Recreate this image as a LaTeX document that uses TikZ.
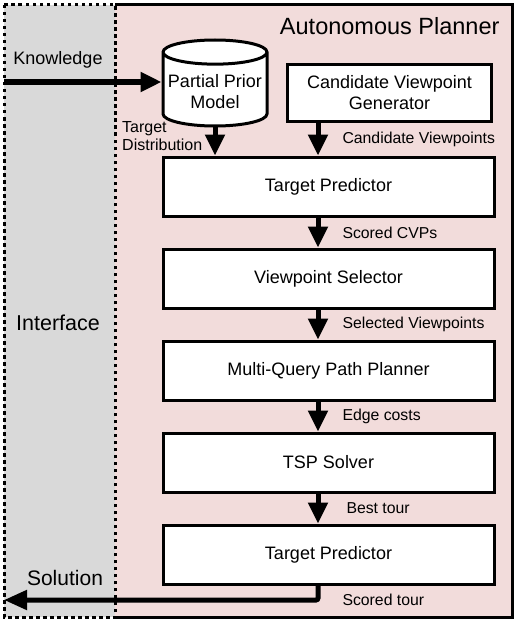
\documentclass[tikz,border=0pt]{standalone}
\usepackage{fontspec}
\setmainfont{Liberation Sans}
\usetikzlibrary{positioning,shapes.geometric,arrows.meta}
\definecolor{plannerpink}{HTML}{F2DCDB}
\definecolor{interfacegray}{HTML}{D9D9D9}
\tikzset{
  box/.style={draw, line width=3pt, fill=white, minimum width=331pt, minimum height=59pt, align=center, font=\fontsize{18}{21}\selectfont},
  flow/.style={line width=5pt, -{Triangle[width=19pt,length=21pt]}},
  lbl/.style={font=\fontsize{15.8}{18}\selectfont, inner sep=1pt, anchor=west, xshift=21pt},
}
\begin{document}
\begin{tikzpicture}[x=1pt,y=-1pt]
        \useasboundingbox (0,0) rectangle (517,623);
        \fill[plannerpink] (115,5) rectangle (512,617);
        \draw[line width=3pt] (115,5) -- (512,5) -- (512,617) -- (115,617);
        \draw[fill=interfacegray, line width=3pt, dash pattern=on 3.5pt off 3.5pt] (4,5) rectangle (115,617);
        \node[anchor=east, font=\fontsize{23.5}{26}\selectfont] (title) at (503,26) {Autonomous Planner};
        \node[font=\fontsize{18}{21}\selectfont] (know) at (58,60) {Knowledge};
        \node[font=\fontsize{21.5}{24}\selectfont] (intf) at (58,323) {Interface};
        \node[font=\fontsize{21}{24}\selectfont] (soln) at (65,578) {Solution};
        \node[cylinder, shape border rotate=90, aspect=0.24, draw, line width=3pt, fill=white, minimum width=104pt, minimum height=86pt, align=center, font=\fontsize{18}{21}\selectfont, anchor=north] (ppm) at (215,38.5) {Partial Prior\\Model};
        \node[box, minimum width=204pt, minimum height=57pt] (cvg) at (389.5,93) {Candidate Viewpoint\\Generator};
        \node[box] (tp1) at (328.5,186.5) {Target Predictor};
        \node[box, below=30pt of tp1] (vs) {Viewpoint Selector};
        \node[box, below=30pt of vs] (mqpp) {Multi-Query Path Planner};
        \node[box, below=30pt of mqpp] (tsp) {TSP Solver};
        \node[box, below=30pt of tsp] (tp2) {Target Predictor};
        \node[align=left, anchor=west, inner sep=1pt, font=\fontsize{16}{17.5}\selectfont] (tdist) at (121,136) {Target\\Distribution};
        \coordinate (col) at (318,0);
        \coordinate (knowstart) at (4,82);
        \coordinate (solend) at (4,600);
        \draw[flow, line width=5.5pt] (knowstart) -- (knowstart -| ppm.west);
        \draw[flow] (ppm.south) -- (ppm.south |- tp1.north);
        \draw[flow] (cvg.south -| col) -- node[lbl]{Candidate Viewpoints} (tp1.north -| col);
        \draw[flow] (tp1.south -| col) -- node[lbl]{Scored CVPs} (vs.north -| col);
        \draw[flow] (vs.south -| col) -- node[lbl]{Selected Viewpoints} (mqpp.north -| col);
        \draw[flow] (mqpp.south -| col) -- node[lbl]{Edge costs} (tsp.north -| col);
        \draw[flow] (tsp.south -| col) -- node[lbl, xshift=4pt]{Best tour} (tp2.north -| col);
        \draw[flow, -{Triangle[width=19pt,length=23pt]}, rounded corners=2pt] (tp2.south -| col) |- node[lbl, pos=0.5]{Scored tour} (solend);
\end{tikzpicture}
\end{document}
